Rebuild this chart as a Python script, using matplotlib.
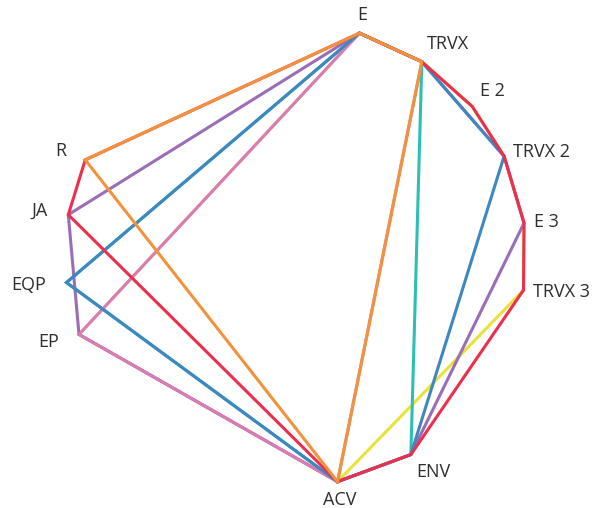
import numpy as np
import matplotlib
matplotlib.use("Agg")
from matplotlib import pyplot as plt

# nodes around the circle (angle in degrees, clockwise from top)
labels = ["E", "TRVX", "E 2", "TRVX 2", "E 3", "TRVX 3", "ENV", "ACV", "EP", "EQP", "JA", "R"]
angles_deg = [16.1, 33.2, 50.0, 64.7, 82.1, 98.8, 150.0, 169.5, 249.8, 263.1, 280.0, 294.3]

# each series is a closed path through some of the nodes
yellow_path = ["ACV", "EP", "E", "TRVX", "E 2", "TRVX 2", "E 3", "TRVX 3", "ACV"]
teal_path = ["ACV", "EQP", "E", "TRVX", "ENV", "ACV"]
purple_path = ["ACV", "EP", "JA", "E", "TRVX", "TRVX 2", "E 3", "ENV", "ACV"]
pink_path = ["ACV", "EP", "E", "TRVX", "ACV"]
blue_path = ["ACV", "EQP", "E", "TRVX", "TRVX 2", "ENV", "ACV"]
red_path = ["ACV", "JA", "R", "E", "TRVX", "E 2", "TRVX 2", "E 3", "TRVX 3", "ENV", "ACV"]
orange_path = ["ACV", "R", "E", "TRVX", "ACV"]

series = [
    (yellow_path, "#E8E23A"),
    (teal_path, "#2CBFB4"),
    (purple_path, "#9B6DB7"),
    (pink_path, "#D87BB8"),
    (blue_path, "#3E87C1"),
    (red_path, "#EC2F4C"),
    (orange_path, "#F2923C"),
]

theta = dict(zip(labels, np.radians(angles_deg)))

fig = plt.figure(figsize=(5.94, 5.08), dpi=100)
ax = fig.add_axes([0.1091, 0.0443, 0.7768, 0.9083], projection="polar")
ax.set_theta_zero_location("N")
ax.set_theta_direction(-1)
ax.set_ylim(0, 1)
ax.set_axis_off()

for path, col in series:
    t = [theta[n] for n in path]
    ax.plot(t, np.ones(len(t)), color=col, lw=2.2, clip_on=False,
            solid_joinstyle="miter")

for name in labels:
    a = theta[name]
    s, c = np.sin(a), np.cos(a)
    if s > 0.35:
        ha = "left"
    elif s < -0.35:
        ha = "right"
    else:
        ha = "center"
    if c > 0.5:
        va = "bottom"
    elif c < -0.5:
        va = "top"
    else:
        va = "center"
    gap = 21 if s < -0.35 else 10
    ax.annotate(name, xy=(a, 1), xytext=(gap * s, gap * c),
                textcoords="offset pixels", ha=ha, va=va,
                fontsize=13, family="Open Sans", color="#2e2e2e",
                annotation_clip=False)

fig.savefig("out.png", dpi=100)
